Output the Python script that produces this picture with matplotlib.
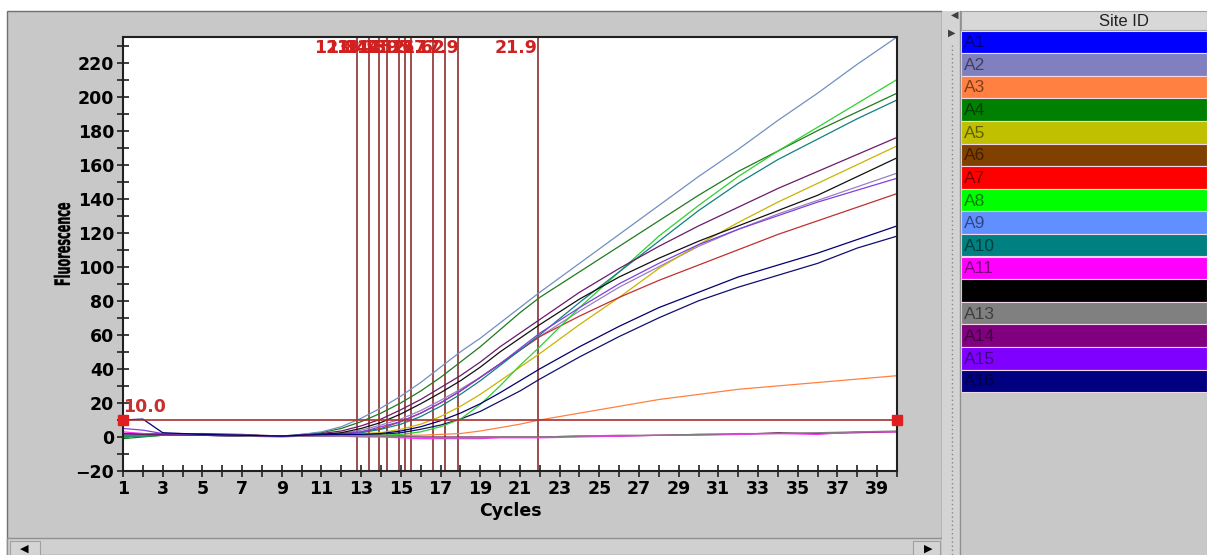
import matplotlib
matplotlib.use("Agg")
import matplotlib.pyplot as plt
from matplotlib.patches import Rectangle, PathPatch
from matplotlib.textpath import TextPath
from matplotlib.font_manager import FontProperties
from matplotlib.transforms import Affine2D, IdentityTransform
from matplotlib.ticker import MultipleLocator

cycles = [1, 2, 3, 5, 7, 9, 10, 11, 12, 13, 14, 15, 16, 17, 18, 19, 20, 21, 22,
          24, 26, 28, 30, 32, 34, 36, 38, 40]

site_ids = ['A1', 'A2', 'A3', 'A4', 'A5', 'A6', 'A7', 'A8',
            'A9', 'A10', 'A11', 'A12', 'A13', 'A14', 'A15', 'A16']
site_colors = ['#0000ff', '#8080c0', '#ff8040', '#008000', '#c0c000', '#804000', '#ff0000', '#00ff00',
               '#6090ff', '#008080', '#ff00ff', '#000000', '#808080', '#800080', '#8000ff', '#000080']

a1 = [1, 1.5, 2, 1.5, 1, 0.5, 0.5, 1, 1, 1.5, 1.5, 2.5, 4.5, 7, 10.5, 15, 21, 27, 34, 47, 59, 70, 80, 88, 95, 102, 111, 118]
a2 = [1, 1, 1.5, 1, 1, 0.5, 1, 1.5, 2, 4, 7, 10.5, 15.5, 21.5, 28, 35, 43, 51, 59, 74, 88, 100, 112, 122, 131, 139, 147, 155]
a3 = [0, 0.5, 1, 1.5, 1, 0.5, 0.5, 0.5, 1, 1, 1, 1, 1, 1.5, 2, 3.5, 5.5, 7.5, 10, 14, 18, 22, 25, 28, 30, 32, 34, 36]
a4 = [-1, 0, 1, 1.5, 1, 0.5, 1.5, 2.5, 5, 9, 14, 20, 27, 35, 44, 53, 63, 73, 82, 97, 112, 127, 142, 156, 168, 180, 191, 202]
a5 = [1, 1, 1, 1.5, 1, 0.5, 0.5, 1, 1.5, 2, 2.5, 4.5, 7.5, 12, 18, 25, 33, 41, 49, 66, 82, 99, 113, 126, 138, 149, 160, 171]
a6 = [2, 2, 1.5, 2, 1.5, 0.5, 0.5, 1, 1, 1, 0.5, 0.5, 0, 0, 0, 0, 0, 0, 0, 0.5, 0.5, 1, 1.5, 1.5, 2.5, 2, 2.5, 3]
a7 = [0.5, 1, 1, 1.5, 1, 0.5, 1, 1.5, 2, 3, 5, 9, 14, 20, 27, 35, 43, 51, 59, 71, 82, 92, 101, 110, 119, 127, 135, 143]
a8 = [0, 0.5, 1, 1, 1, 0.5, 0.5, 0.5, 1, 1, 1, 1.5, 3, 6, 10.5, 19, 30, 42, 53, 76, 97, 118, 136, 153, 168, 182, 196, 210]
a9 = [1.5, 1.5, 1.5, 1, 1, 0.5, 1.5, 3, 6, 11, 17, 24, 32, 41, 50, 58, 67, 76, 85, 102, 119, 136, 153, 169, 186, 202, 219, 235]
a10 = [0.5, 0.5, 1, 1, 0.5, 0.5, 1, 1.5, 2, 2.5, 4.5, 7.5, 12, 18, 25, 33, 42, 51, 60, 79, 97, 115, 133, 149, 163, 175, 187, 198]
a11 = [3, 2, 1.5, 1, 0.5, 0.5, 0.5, 0.5, 0.5, 0, 0, -0.5, -1, -1, -1, -1, -0.5, -0.5, -0.5, 0, 0.5, 1, 1, 1.5, 2, 1.5, 3, 3]
a12 = [1, 1, 1.5, 1, 0.5, 0.5, 1, 1.5, 2.5, 5, 8.5, 13.5, 19.5, 26, 33, 41, 50, 58, 66, 81, 94, 105, 115, 124, 133, 142, 153, 164]
a13 = [1, 1, 1.5, 1, 0.5, 0, 0.5, 0.5, 0.5, 0.5, 0.5, 0, 0, -0.5, -0.5, -0.5, 0, 0, 0, 0.5, 1, 1, 1.5, 2, 2, 2.5, 3, 3.5]
a14 = [2, 1.5, 1.5, 1, 1, 0.5, 1, 2, 3.5, 6.5, 10.5, 16, 22, 29, 36, 44, 53, 61, 69, 85, 99, 112, 124, 135, 146, 156, 166, 176]
a15 = [5, 4, 2, 1.5, 1, 0.5, 1, 1, 1.5, 3, 6, 9, 14, 20, 27, 35, 43, 52, 61, 76, 90, 102, 113, 122, 130, 138, 145, 152]
a16 = [10, 10.5, 2.5, 1.5, 1, 0.5, 1, 1.5, 1.5, 1.5, 2, 3.5, 6, 9.5, 14, 19.5, 26, 33, 40, 53, 65, 76, 85, 94, 101, 108, 116, 124]

curves = [a1, a2, a3, a4, a5, a6, a7, a8, a9, a10, a11, a12, a13, a14, a15, a16]
# line colours as they look in the picture (A1 appears dark)
line_colors = ['#101070', '#9a80c0', '#ff8040', '#207a20', '#c8b400', '#70305a', '#c03030', '#30d030',
               '#7090c0', '#108080', '#ff30ff', '#101010', '#808080', '#6a1a6a', '#8040e0', '#000070']

ct_values = [12.8, 13.4, 13.9, 14.3, 14.9, 15.2, 15.5, 16.6, 17.2, 17.9, 21.9]
threshold = 10.0

W, H = 1207, 555
fig = plt.figure(figsize=(W / 100, H / 100), dpi=100)
fig.patch.set_facecolor('white')


def box(x0, y0, x1, y1, fc, ec='none', lw=0.0):
    r = Rectangle((x0 / W, 1 - y1 / H), (x1 - x0) / W, (y1 - y0) / H,
                  transform=fig.transFigure, facecolor=fc, edgecolor=ec, linewidth=lw, zorder=-5)
    fig.patches.append(r)


# main panel, scrollbar, splitter and site list
box(7, 11, 942, 555, '#c8c8c8', '#707070', 1.0)
box(7, 538, 942, 555, '#d0d0d0', '#909090', 1.0)
box(10, 541, 40, 555, '#d4d4d4', '#a0a0a0', 0.8)
box(913, 541, 940, 555, '#d4d4d4', '#a0a0a0', 0.8)
fig.text(24 / W, 1 - 549 / H, '\u25c0', fontsize=8, color='black', ha='center', va='center')
fig.text(928 / W, 1 - 549 / H, '\u25b6', fontsize=8, color='black', ha='center', va='center')
box(942, 11, 961, 555, '#d4d4d4')
fig.add_artist(plt.Line2D([952 / W, 952 / W], [1 - 45 / H, 0], transform=fig.transFigure,
                          color='#888888', lw=1.0, ls=(0, (1, 2))))
fig.add_artist(plt.Line2D([960 / W, 960 / W], [1 - 11 / H, 0], transform=fig.transFigure,
                          color='#909090', lw=1.0))
fig.text(955 / W, 1 - 15 / H, '\u25c0', fontsize=7, color='#404040', ha='center', va='center')
fig.text(952 / W, 1 - 33 / H, '\u25b6', fontsize=7, color='#404040', ha='center', va='center')
box(961, 11, W, 555, '#c8c8c8')
box(961, 11, W, 30, '#d8d8d8', '#a0a0a0', 0.8)
fig.text(1124 / W, 1 - 21 / H, 'Site ID', fontsize=12, family='Liberation Sans',
         ha='center', va='center', color='#202020')
row_h = 22.6
for i, (sid, col) in enumerate(zip(site_ids, site_colors)):
    y0 = 30.5 + i * row_h
    box(961, y0, W, y0 + row_h, col, '#f0d8e8', 0.8)
    fig.text(964 / W, 1 - (y0 + row_h / 2 + 1) / H, sid, fontsize=12.5, family='Liberation Sans',
             ha='left', va='center', color='black', alpha=0.5)

# plot area
ax = fig.add_axes([123 / W, 1 - 471 / H, (897 - 123) / W, (471 - 37) / H])
ax.set_zorder(10)
ax.set_facecolor('white')
ax.set_xlim(1, 40)
ax.set_ylim(-20, 235)

for ct in ct_values:
    ax.axvline(ct, color='#8b3030', lw=1.2, zorder=1)

for vals, col in zip(curves, line_colors):
    ax.plot(cycles, vals, color=col, lw=0.9, zorder=2)

ax.plot([1, 40], [threshold, threshold], color='#a83030', lw=1.2, zorder=3)
ax.plot([1, 40], [threshold, threshold], ls='none', marker='s', ms=7.5,
        color='#e02020', zorder=5, clip_on=False)
ax.text(1.0, threshold + 2.5, '10.0', color='#c83030', fontsize=12.5, fontweight='bold',
        ha='left', va='bottom', zorder=4)

for ct in ct_values:
    ax.text(ct, 223.5, '%.1f' % ct, color='#d02020', fontsize=12.5, fontweight='bold',
            ha='right', va='bottom', zorder=4)

ax.set_xticks(range(1, 40, 2))
ax.xaxis.set_minor_locator(MultipleLocator(1))
ax.set_yticks(range(-20, 221, 20))
ax.yaxis.set_minor_locator(MultipleLocator(10))
ax.tick_params(which='both', direction='inout', length=9, width=1.2, color='#202020')
ax.tick_params(axis='x', pad=2)
ax.tick_params(axis='y', pad=2)
for lab in ax.get_xticklabels() + ax.get_yticklabels():
    lab.set_fontweight('bold')
    lab.set_fontsize(12.5)
for sp in ax.spines.values():
    sp.set_linewidth(1.5)
    sp.set_color('#202020')

fig.text(510 / W, 1 - 511 / H, 'Cycles', fontsize=12.5, fontweight='bold',
         ha='center', va='center')

# condensed, rotated y label drawn as a squeezed text path (pixels)
tp = TextPath((0, 0), 'Fluorescence', size=21, prop=FontProperties(family='DejaVu Sans', weight='bold'))
ext = tp.get_extents()
sx = 82.0 / ext.width
tr = (Affine2D().translate(-ext.x0 - ext.width / 2, -ext.y0 - ext.height / 2)
      .scale(sx, 1.0).rotate_deg(90).translate(62, H - 244))
fig.patches.append(PathPatch(tr.transform_path(tp), transform=IdentityTransform(),
                             facecolor='black', edgecolor='black', lw=0.3, zorder=3))

fig.savefig('out.png', dpi=100, facecolor=fig.get_facecolor())
